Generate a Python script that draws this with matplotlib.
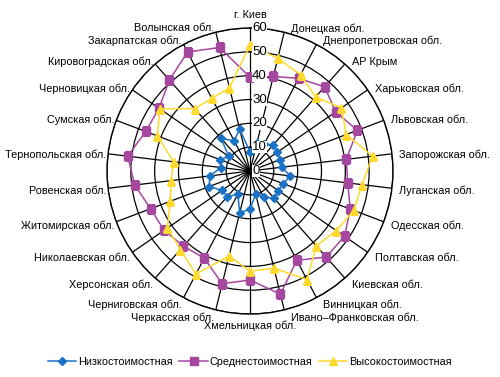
import numpy as np
import matplotlib.pyplot as plt

regions = ["г. Киев", "Донецкая обл.", "Днепропетровская обл.", "АР Крым",
           "Харьковская обл.", "Львовская обл.", "Запорожская обл.",
           "Луганская обл.", "Одесская обл.", "Полтавская обл.", "Киевская обл.",
           "Винницкая обл.", "Ивано–Франковская обл.", "Хмельницкая обл.",
           "Черкасская обл.", "Черниговская обл.", "Херсонская обл.",
           "Николаевская обл.", "Житомирская обл.", "Ровенская обл.",
           "Тернопольская обл.", "Сумская обл.", "Черновицкая обл.",
           "Кировоградская обл.", "Закарпатская обл.", "Волынская обл."]

low = [8, 12, 13, 14.5, 14, 13.5, 13.4, 17, 15, 14.5, 15.3, 12.5, 10, 16,
       18, 11, 14.3, 14.3, 18.3, 17, 12.3, 13.4, 10.8, 18.3, 14.3, 18.2]
mid = [39.4, 40.9, 43.9, 47.2, 43.7, 48.2, 40.7, 41.3, 45, 48.2, 48.2, 42.3,
       53.2, 45.7, 48.7, 41.3, 42.1, 43.8, 44.6, 48.7, 51.7, 46.8, 46.4, 51,
       56.4, 53.4]
high = [52.9, 48.7, 45.6, 41.5, 46.6, 43.2, 51.8, 47.3, 46.6, 44, 42, 51.4,
        42, 42, 36.7, 48.9, 44, 42.1, 35.8, 33.3, 32.3, 41.6, 46, 35, 34.4, 36]

series = ["Низкостоимостная", "Среднестоимостная", "Высокостоимостная"]
r_ticks = [0, 10, 20, 30, 40, 50, 60]

plt.rcParams['font.family'] = ['Liberation Sans', 'DejaVu Sans']

fig = plt.figure(figsize=(5.0, 3.77), dpi=100)
ax = fig.add_axes([0.214, 0.167, 0.572, 0.7586], projection='polar')
ax.set_theta_zero_location('N')
ax.set_theta_direction(-1)

n = len(regions)
angles = np.arange(n) * 2 * np.pi / n
ax.set_xticks(angles)
ax.set_xticklabels([])
ax.set_ylim(0, 60)
ax.set_yticks(r_ticks)
ax.set_yticklabels([])
ax.grid(True, color='black', lw=0.9)
ax.spines['polar'].set_color('black')
ax.spines['polar'].set_linewidth(1.0)

closed = np.append(angles, angles[0])
ax.plot(closed, low + low[:1], color='#1b72c4', lw=1.1, marker='D', ms=4,
        label=series[0], zorder=3)
ax.plot(closed, mid + mid[:1], color='#a5479f', lw=1.1, marker='s', ms=5.5,
        label=series[1], zorder=3)
ax.plot(closed, high + high[:1], color='#ffd92e', lw=1.1, marker='^', ms=6,
        label=series[2], zorder=4)

# radial scale labels along the top spoke
for r in r_ticks:
    ax.annotate(str(r), xy=(0, r), xytext=(1.5, 0), textcoords='offset points',
                ha='left', va='center', fontsize=9.5, zorder=6,
                bbox=dict(fc='white', ec='none', pad=0.1))

# category labels around the outside
for a, name in zip(angles, regions):
    s, c = np.sin(a), np.cos(a)
    if abs(s) < 0.1:
        ha, dx = 'center', 0
        dy = 13 if c > 0 else -12
    else:
        ha = 'left' if s > 0 else 'right'
        dx = 7 if s > 0 else -2
        dy = 6 * c - 2
    ax.annotate(name, xy=(a, 60), xytext=(dx * 0.72, dy * 0.72),
                textcoords='offset points', ha=ha, va='center', fontsize=7.8,
                annotation_clip=False)

fig.legend(loc='center', bbox_to_anchor=(0.5, 1 - 362 / 377), ncol=3,
           frameon=False, fontsize=7.8, handlelength=2.6, columnspacing=0.6,
           handletextpad=0.2)

fig.savefig('out.png', dpi=100)
